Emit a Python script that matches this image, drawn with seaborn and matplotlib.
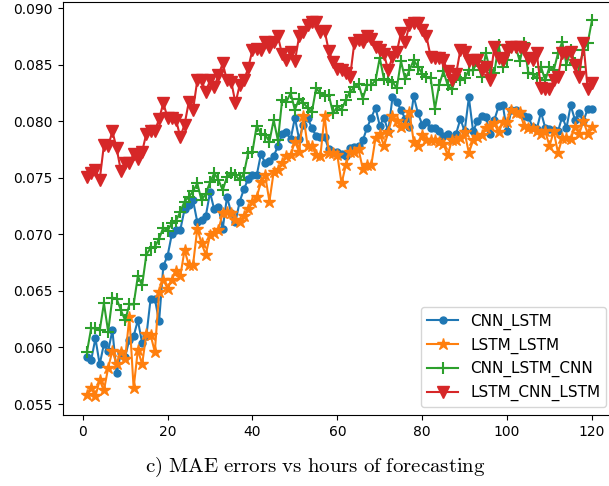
import matplotlib
matplotlib.use("Agg")
import matplotlib.pyplot as plt
import pandas as pd
import seaborn as sns

hours = list(range(1, 121))

cnn_lstm = [
    0.0592, 0.0589, 0.0608, 0.0585, 0.0603, 0.0597, 0.0615, 0.0577, 0.0595, 0.0592,
    0.0607, 0.0610, 0.0624, 0.0604, 0.0610, 0.0643, 0.0643, 0.0623, 0.0672, 0.0681,
    0.0700, 0.0704, 0.0704, 0.0722, 0.0726, 0.0730, 0.0711, 0.0713, 0.0716, 0.0737,
    0.0722, 0.0724, 0.0705, 0.0733, 0.0719, 0.0711, 0.0729, 0.0740, 0.0749, 0.0752,
    0.0752, 0.0771, 0.0763, 0.0765, 0.0769, 0.0778, 0.0789, 0.0790, 0.0784, 0.0803,
    0.0784, 0.0797, 0.0803, 0.0794, 0.0787, 0.0786, 0.0786, 0.0775, 0.0773, 0.0773,
    0.0771, 0.0769, 0.0776, 0.0777, 0.0778, 0.0783, 0.0794, 0.0803, 0.0812, 0.0796,
    0.0803, 0.0791, 0.0821, 0.0817, 0.0810, 0.0802, 0.0795, 0.0822, 0.0807, 0.0797,
    0.0799, 0.0794, 0.0794, 0.0791, 0.0787, 0.0789, 0.0784, 0.0789, 0.0802, 0.0791,
    0.0821, 0.0791, 0.0800, 0.0805, 0.0804, 0.0789, 0.0801, 0.0813, 0.0814, 0.0791,
    0.0810, 0.0810, 0.0807, 0.0805, 0.0804, 0.0795, 0.0793, 0.0808, 0.0794, 0.0793,
    0.0792, 0.0791, 0.0804, 0.0794, 0.0814, 0.0801, 0.0807, 0.0800, 0.0811, 0.0811,
]

lstm_lstm = [
    0.0558, 0.0564, 0.0557, 0.0571, 0.0562, 0.0582, 0.0597, 0.0585, 0.0596, 0.0590,
    0.0627, 0.0564, 0.0598, 0.0585, 0.0612, 0.0611, 0.0596, 0.0649, 0.0660, 0.0652,
    0.0660, 0.0668, 0.0663, 0.0686, 0.0673, 0.0673, 0.0705, 0.0692, 0.0682, 0.0699,
    0.0701, 0.0704, 0.0719, 0.0720, 0.0719, 0.0713, 0.0711, 0.0716, 0.0722, 0.0729,
    0.0733, 0.0746, 0.0752, 0.0729, 0.0755, 0.0757, 0.0763, 0.0769, 0.0770, 0.0782,
    0.0773, 0.0805, 0.0778, 0.0778, 0.0770, 0.0769, 0.0805, 0.0772, 0.0772, 0.0770,
    0.0745, 0.0761, 0.0773, 0.0773, 0.0775, 0.0758, 0.0761, 0.0761, 0.0785, 0.0789,
    0.0778, 0.0790, 0.0805, 0.0800, 0.0795, 0.0797, 0.0808, 0.0782, 0.0778, 0.0788,
    0.0783, 0.0783, 0.0783, 0.0782, 0.0780, 0.0770, 0.0783, 0.0783, 0.0785, 0.0790,
    0.0772, 0.0783, 0.0786, 0.0788, 0.0794, 0.0796, 0.0798, 0.0790, 0.0799, 0.0799,
    0.0810, 0.0807, 0.0808, 0.0796, 0.0794, 0.0794, 0.0791, 0.0789, 0.0791, 0.0778,
    0.0791, 0.0772, 0.0785, 0.0785, 0.0784, 0.0795, 0.0789, 0.0800, 0.0789, 0.0795,
]

cnn_lstm_cnn = [
    0.0596, 0.0617, 0.0617, 0.0615, 0.0639, 0.0614, 0.0644, 0.0643, 0.0633, 0.0624,
    0.0638, 0.0638, 0.0663, 0.0655, 0.0682, 0.0688, 0.0689, 0.0696, 0.0706, 0.0703,
    0.0710, 0.0712, 0.0720, 0.0729, 0.0733, 0.0738, 0.0745, 0.0730, 0.0736, 0.0746,
    0.0754, 0.0748, 0.0739, 0.0751, 0.0754, 0.0752, 0.0748, 0.0754, 0.0772, 0.0773,
    0.0796, 0.0789, 0.0788, 0.0782, 0.0801, 0.0783, 0.0819, 0.0817, 0.0825, 0.0810,
    0.0820, 0.0816, 0.0812, 0.0808, 0.0829, 0.0825, 0.0822, 0.0823, 0.0807, 0.0813,
    0.0810, 0.0819, 0.0826, 0.0830, 0.0833, 0.0820, 0.0832, 0.0832, 0.0836, 0.0856,
    0.0837, 0.0836, 0.0835, 0.0829, 0.0853, 0.0837, 0.0845, 0.0854, 0.0848, 0.0842,
    0.0839, 0.0838, 0.0811, 0.0832, 0.0844, 0.0832, 0.0828, 0.0839, 0.0836, 0.0838,
    0.0845, 0.0845, 0.0853, 0.0839, 0.0860, 0.0845, 0.0843, 0.0867, 0.0848, 0.0854,
    0.0866, 0.0866, 0.0853, 0.0869, 0.0843, 0.0842, 0.0838, 0.0848, 0.0836, 0.0848,
    0.0845, 0.0860, 0.0870, 0.0850, 0.0863, 0.0851, 0.0848, 0.0863, 0.0869, 0.0889,
]

lstm_cnn_lstm = [
    0.0751, 0.0754, 0.0757, 0.0748, 0.0779, 0.0778, 0.0791, 0.0776, 0.0756, 0.0763,
    0.0763, 0.0771, 0.0767, 0.0773, 0.0789, 0.0791, 0.0791, 0.0802, 0.0816, 0.0803,
    0.0803, 0.0801, 0.0786, 0.0797, 0.0817, 0.0810, 0.0836, 0.0836, 0.0826, 0.0836,
    0.0830, 0.0841, 0.0851, 0.0836, 0.0835, 0.0816, 0.0832, 0.0836, 0.0847, 0.0863,
    0.0864, 0.0863, 0.0870, 0.0866, 0.0870, 0.0875, 0.0859, 0.0854, 0.0861, 0.0853,
    0.0875, 0.0879, 0.0885, 0.0888, 0.0888, 0.0879, 0.0880, 0.0862, 0.0852, 0.0846,
    0.0845, 0.0843, 0.0839, 0.0869, 0.0872, 0.0870, 0.0875, 0.0873, 0.0866, 0.0863,
    0.0859, 0.0845, 0.0857, 0.0861, 0.0878, 0.0870, 0.0885, 0.0887, 0.0887, 0.0881,
    0.0875, 0.0857, 0.0856, 0.0856, 0.0854, 0.0844, 0.0836, 0.0842, 0.0863, 0.0861,
    0.0853, 0.0854, 0.0854, 0.0845, 0.0848, 0.0836, 0.0866, 0.0856, 0.0854, 0.0863,
    0.0866, 0.0866, 0.0866, 0.0864, 0.0856, 0.0854, 0.0860, 0.0829, 0.0828, 0.0828,
    0.0836, 0.0839, 0.0860, 0.0860, 0.0861, 0.0850, 0.0839, 0.0869, 0.0828, 0.0834,
]

model_names = ["CNN_LSTM", "LSTM_LSTM", "CNN_LSTM_CNN", "LSTM_CNN_LSTM"]
caption = r"$\mathrm{c)\ MAE\ errors\ vs\ hours\ of\ forecasting}$"

plt.rcParams["font.family"] = ["DejaVu Sans"]
plt.rcParams["mathtext.fontset"] = "cm"

fig = plt.figure(figsize=(6.09, 4.86), dpi=100)
ax = fig.add_axes([62.5 / 609, 71 / 486, 551.5 / 609, 413.3 / 486])

styles = [
    ("#1f77b4", "o", 5, 1.0),
    ("#ff7f0e", "*", 9, 1.0),
    ("#2ca02c", "+", 9, 1.5),
    ("#d62728", "v", 9, 1.0),
]
all_values = [cnn_lstm, lstm_lstm, cnn_lstm_cnn, lstm_cnn_lstm]

for name, vals, (color, marker, ms, mew) in zip(model_names, all_values, styles):
    df = pd.DataFrame({"hour": hours, "mae": vals})
    sns.lineplot(data=df, x="hour", y="mae", ax=ax, color=color, marker=marker,
                 markersize=ms, markeredgecolor=color, markeredgewidth=mew,
                 linewidth=1.5, label=name, errorbar=None)

ax.set_xlim(-4.76, 125.2)
ax.set_ylim(0.05403, 0.09056)
ax.set_xlabel("")
ax.set_ylabel("")
ax.legend(loc="lower right", fontsize=11)

fig.text(315 / 609, 19 / 486, caption, ha="center", va="center", fontsize=15)

fig.savefig("out.png", dpi=100)
